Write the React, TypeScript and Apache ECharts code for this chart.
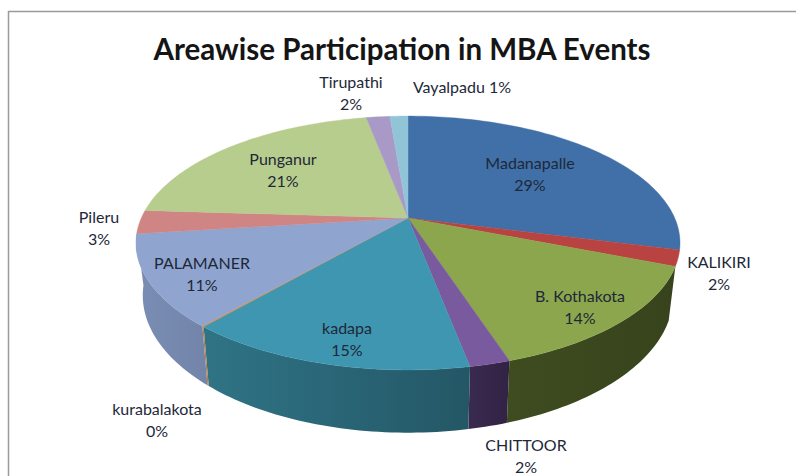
import React, { useEffect, useRef } from "react";
import * as echarts from "echarts";

const titleText = "Areawise Participation in MBA Events";
const categories = ["Madanapalle", "KALIKIRI", "B. Kothakota", "CHITTOOR", "kadapa", "kurabalakota", "PALAMANER", "Pileru", "Punganur", "Tirupathi", "Vayalpadu"];
const values = [29, 2, 14, 2, 14.3, 0.1, 11.6, 3, 21, 1.7, 1.3];
const percentLabels = ["29%", "2%", "14%", "2%", "15%", "0%", "11%", "3%", "21%", "2%", "1%"];
const topColors = ["#4170a8", "#b84341", "#8ba64c", "#7a5a9e", "#3e96b0", "#cf8a4c", "#8fa5cf", "#d08585", "#b7cd8e", "#a999c7", "#92c4d8"];
const sideStart = ["#2c4f78", "#7d2c2b", "#3f4c20", "#3a2a50", "#2f7486", "#b87a40", "#7a8db3", "#a86a6a", "#8aa068", "#7e7298", "#6a94a4"];
const sideEnd = ["#27466b", "#6d2625", "#37431c", "#312344", "#245766", "#b87a40", "#7284a9", "#a86a6a", "#8aa068", "#7e7298", "#6a94a4"];
const labelCenters: [number, number][] = [[530, 173], [719, 272], [580, 306], [526, 455], [347, 338], [157, 419], [202, 273], [99, 227], [283, 169], [351, 92], [462, 86]];

const CX = 408, CY = 218, A = 266.7, B = 122, K = 0.197, DEPTH = 50.4, NARROW = 0.975;
const VISIBLE_FROM = (111.6 * Math.PI) / 180, VISIBLE_TO = (263 * Math.PI) / 180;
const total = values.reduce((s, v) => s + v, 0);
const starts = values.map((_, i) => values.slice(0, i).reduce((s, v) => s + v, 0));

function project(angle: number, drop: number): number[] {
  const u = Math.sin(angle), v = -Math.cos(angle), w = 1 - K * v;
  const shrink = drop ? NARROW : 1;
  return [CX + ((A * u) / w) * shrink, CY + (B * v) / w + (drop * DEPTH) / w];
}
function arc(a0: number, a1: number, drop: number): number[][] {
  const n = Math.max(2, Math.ceil(Math.abs(a1 - a0) / 0.02));
  const pts: number[][] = [];
  for (let i = 0; i <= n; i++) pts.push(project(a0 + ((a1 - a0) * i) / n, drop));
  return pts;
}
function range(i: number): [number, number] {
  return [(starts[i] / total) * 2 * Math.PI, ((starts[i] + values[i]) / total) * 2 * Math.PI];
}

const seriesData = categories.map((name, i) => ({ name, value: [values[i], i] }));

export default function App() {
  const ref = useRef<HTMLDivElement>(null);
  useEffect(() => {
    const chart = echarts.init(ref.current!, null, { renderer: "svg" });
    chart.setOption({
      animation: false,
      backgroundColor: "#ffffff",
      title: {
        text: titleText,
        left: 397,
        top: 28,
        textAlign: "center",
        textStyle: { fontFamily: "Lato", fontSize: 29.5, fontWeight: "bold", color: "#151515" },
      },
      graphic: [
        { type: "line", z: 0, shape: { x1: 8, y1: 11.5, x2: 796, y2: 11.5 }, style: { stroke: "#9a9a9a", lineWidth: 1.5 } },
        { type: "line", z: 0, shape: { x1: 8.5, y1: 11, x2: 8.5, y2: 476 }, style: { stroke: "#9a9a9a", lineWidth: 1.5 } },
        ...categories.map((name, i) => {
          const single = name === "Vayalpadu";
          return {
            type: "text",
            z: 100,
            x: labelCenters[i][0],
            y: labelCenters[i][1],
            style: {
              text: single ? `${name} ${percentLabels[i]}` : `${name}\n${percentLabels[i]}`,
              fontFamily: "Lato",
              fontSize: 16,
              lineHeight: 22,
              fill: "#1e2838",
              align: "center",
              verticalAlign: "middle",
            },
          };
        }),
      ],
      series: [
        {
          type: "custom",
          coordinateSystem: "none",
          z: 2,
          silent: true,
          data: seriesData,
          renderItem: (_p: any, api: any) => {
            const i = api.value(1);
            const [r0, r1] = range(i);
            const a0 = Math.max(r0, VISIBLE_FROM), a1 = Math.min(r1, VISIBLE_TO);
            if (a1 <= a0) return null;
            return {
              type: "polygon",
              shape: { points: [...arc(a0, a1, 0), ...arc(a1, a0, 1)] },
              style: {
                fill: new echarts.graphic.LinearGradient(0, 0, 1, 0, [
                  { offset: 0, color: sideStart[i] },
                  { offset: 1, color: sideEnd[i] },
                ]),
                stroke: "none",
              },
            };
          },
        },
        {
          type: "custom",
          coordinateSystem: "none",
          z: 3,
          silent: true,
          data: seriesData,
          renderItem: (_p: any, api: any) => {
            const i = api.value(1);
            const [a0, a1] = range(i);
            return {
              type: "polygon",
              shape: { points: [[CX, CY], ...arc(a0, a1, 0)] },
              style: { fill: topColors[i], stroke: topColors[i], lineWidth: 0.4 },
            };
          },
        },
      ],
    });
    return () => chart.dispose();
  }, []);
  return <div ref={ref} style={{ position: "fixed", left: 0, top: 0, width: 796, height: 476 }} />;
}
